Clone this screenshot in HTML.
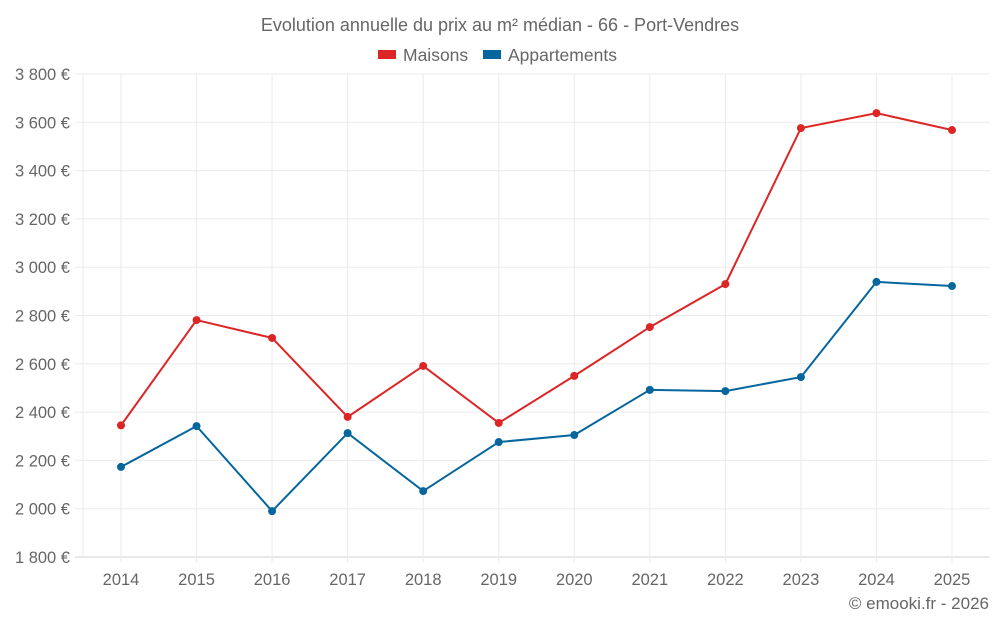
<!DOCTYPE html>
<html><head><meta charset="utf-8"><style>
html,body{margin:0;padding:0;background:#fff;}
svg text{font-family:"Liberation Sans",sans-serif;fill:#666;}
</style></head><body>
<svg width="1000" height="625" viewBox="0 0 1000 625">
<text x="500" y="31" text-anchor="middle" font-size="18">Evolution annuelle du prix au m² médian - 66 - Port-Vendres</text>
<g>
<g><rect x="378" y="50" width="18" height="9" fill="#dc2626"/><text x="403" y="61" font-size="17.5">Maisons</text></g>
<g><rect x="483" y="50" width="18" height="9" fill="#05669d"/><text x="508" y="61" font-size="17.5">Appartements</text></g>
</g>
<g id="grid"></g><g id="axes"></g><g id="series"></g>
<text x="989" y="609" text-anchor="end" font-size="17">© emooki.fr - 2026</text>
</svg>
<script>
const years = [2014,2015,2016,2017,2018,2019,2020,2021,2022,2023,2024,2025];
const maisons = [2345,2781,2707,2380,2591,2355,2550,2752,2930,3576,3638,3568];
const appartements = [2173,2342,1990,2313,2073,2276,2305,2492,2487,2545,2939,2922];
const yTicks = [1800,2000,2200,2400,2600,2800,3000,3200,3400,3600,3800];
const tickLabels = ["1 800 €","2 000 €","2 200 €","2 400 €","2 600 €","2 800 €","3 000 €","3 200 €","3 400 €","3 600 €","3 800 €"];
const NS="http://www.w3.org/2000/svg";
const L=83,R=990,T=74,B=557,ymin=1800,ymax=3800;
const x0=121,x1=952;
function xs(i){return x0+(x1-x0)*i/(years.length-1);}
function ys(v){return B-(v-ymin)/(ymax-ymin)*(B-T);}
function mk(tag,attrs,parent){const e=document.createElementNS(NS,tag);for(const k in attrs)e.setAttribute(k,attrs[k]);parent.appendChild(e);return e;}
const grid=document.getElementById('grid'),axes=document.getElementById('axes'),series=document.getElementById('series');
yTicks.forEach((v,i)=>{
  const y=ys(v);
  const ln=mk('line',{x1:75,x2:R,y1:y,y2:y,stroke:i==0?'#d0d0d0':'#ebebeb','stroke-width':1},grid);
  
  
  const t=mk('text',{x:70,y:y+6,'text-anchor':'end','font-size':16.5},axes);
  t.textContent=tickLabels[i];
  
  
});
const vl=mk('line',{x1:L,x2:L,y1:T,y2:B,stroke:'#ebebeb'},grid);


years.forEach((yr,i)=>{
  const x=xs(i);
  const ln=mk('line',{x1:x,x2:x,y1:T,y2:B+6,stroke:'#ebebeb'},grid);
  
  
  const t=mk('text',{x:x,y:585,'text-anchor':'middle','font-size':16.5},axes);
  t.textContent=yr;
  
  
});
function draw(vals,color,name){
  const g=mk('g',{},series);
  
  
  const p=mk('polyline',{points:vals.map((v,i)=>xs(i)+','+ys(v)).join(' '),fill:'none',stroke:color,'stroke-width':2},g);
  
  
  vals.forEach((v,i)=>{
    const c=mk('circle',{cx:xs(i),cy:ys(v),r:4,fill:color},g);
    
    
  });
}
draw(maisons,'#dc2626','maisons');
draw(appartements,'#05669d','appartements');
</script>
</body></html>
